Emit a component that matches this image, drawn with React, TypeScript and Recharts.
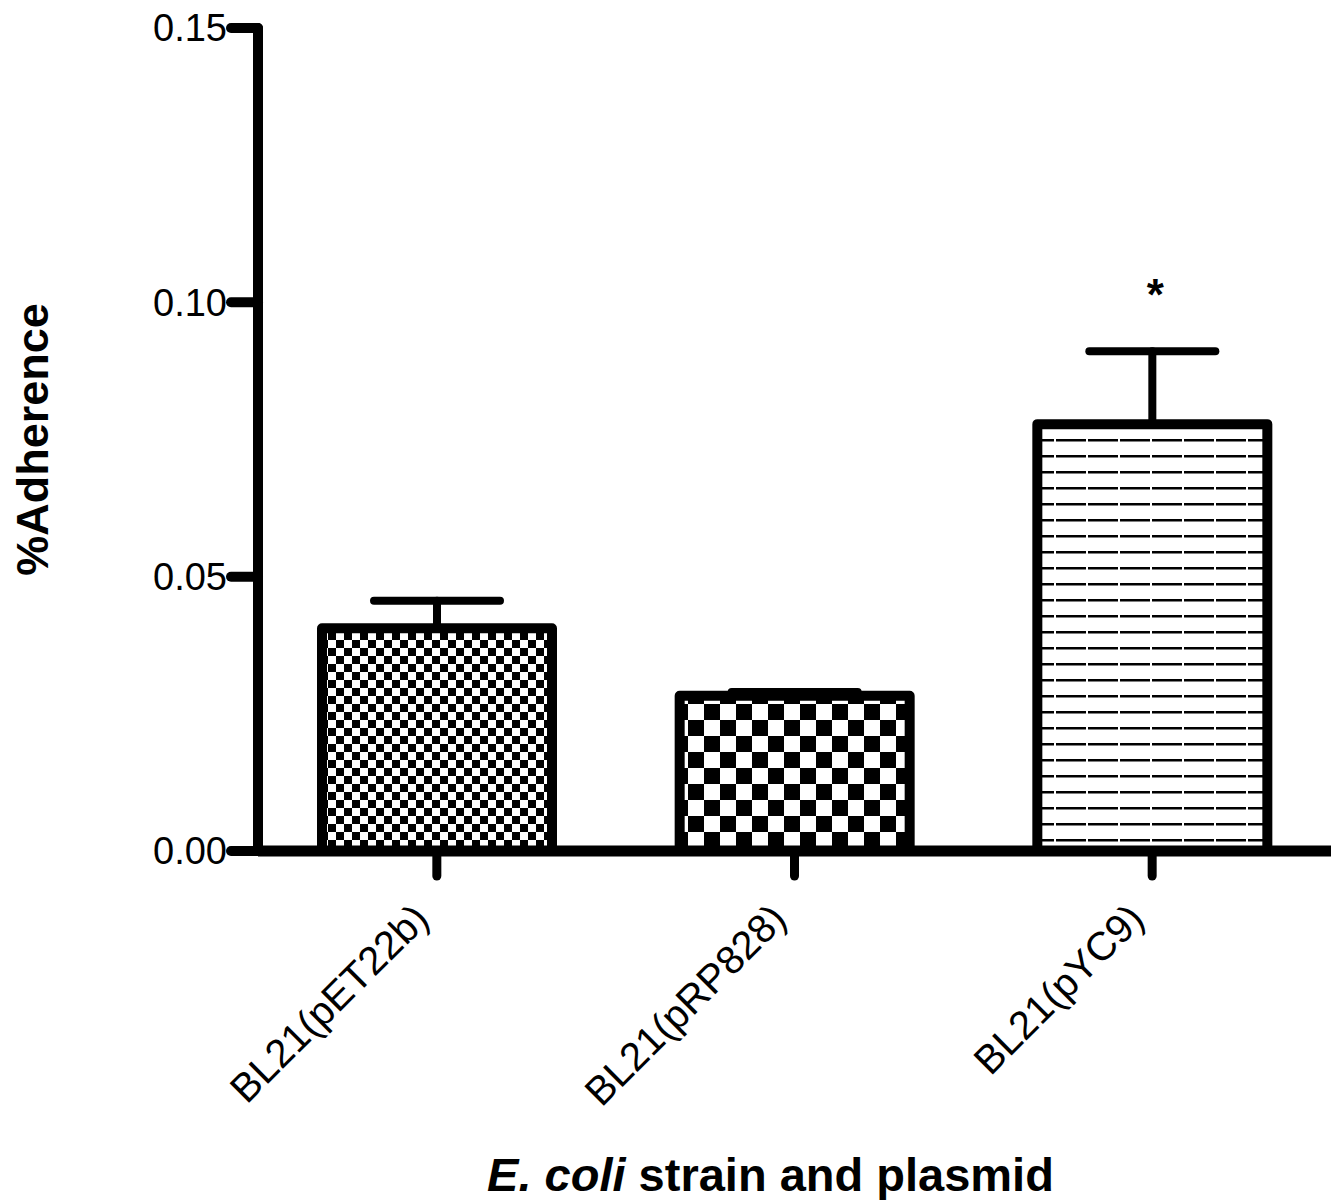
import React from "react";
import { BarChart, Bar, XAxis, YAxis, Cell, ErrorBar, LabelList, Label } from "recharts";

const strains = ["BL21(pET22b)", "BL21(pRP828)", "BL21(pYC9)"];
const adherence = [0.0406, 0.0283, 0.0778];
const sem = [0.005, 0.0007, 0.0133];
const marks = ["", "", "*"];
const yTicks = [0, 0.05, 0.1, 0.15];

const fills = ["url(#chk8)", "url(#chk16)", "url(#hdash)"];
const FONT = "'Liberation Sans', Arial, Helvetica, sans-serif";

const data = strains.map((name, i) => ({
    name,
    value: adherence[i],
    err: [0, sem[i]],
    sig: marks[i],
}));

const CatTick = (props: any) => {
    const { x, y, payload } = props;
    const tx = x - 6;
    return (
        <text
            x={tx}
            y={y}
            transform={`rotate(-45 ${tx} ${y})`}
            textAnchor="end"
            fontFamily={FONT}
            fontSize={40}
            fill="#000"
        >
            {payload.value}
        </text>
    );
};

const XTitle = (props: any) => {
    const vb = props.viewBox || {};
    const cx = vb.x + vb.width / 2 - 24;
    return (
        <text x={cx} y={vb.y + vb.height - 9} textAnchor="middle" fontFamily={FONT} fontSize={47} fontWeight="bold" fill="#000">
            <tspan fontStyle="italic">E. coli</tspan> strain and plasmid
        </text>
    );
};

export default function App() {
    return (
        <div>
            <style>{"body{margin:0;background:#fff}"}</style>
            <BarChart width={1336} height={1200} data={data} margin={{ top: 28, right: 5, left: 0, bottom: 0 }}>
                <defs>
                    <pattern id="chk8" width="16" height="16" patternUnits="userSpaceOnUse">
                        <rect width="16" height="16" fill="#fff" />
                        <rect width="8" height="8" fill="#000" />
                        <rect x="8" y="8" width="8" height="8" fill="#000" />
                    </pattern>
                    <pattern id="chk16" width="32" height="32" patternUnits="userSpaceOnUse">
                        <rect width="32" height="32" fill="#fff" />
                        <rect width="16" height="16" fill="#000" />
                        <rect x="16" y="16" width="16" height="16" fill="#000" />
                    </pattern>
                    <pattern id="hdash" width="32" height="16" patternUnits="userSpaceOnUse">
                        <rect width="32" height="16" fill="#fff" />
                        <rect x="0" y="7" width="30" height="2.5" fill="#000" />
                    </pattern>
                </defs>
                <Bar dataKey="value" barSize={230} stroke="#000" strokeWidth={10} strokeLinejoin="round" isAnimationActive={false}>
                    {data.map((d, i) => (
                        <Cell key={d.name} fill={fills[i]} />
                    ))}
                    <ErrorBar dataKey="err" width={63} stroke="#000" strokeWidth={8} strokeLinecap="round" direction="y" isAnimationActive={false} />
                    <LabelList dataKey="sig" position="top" offset={114} dx={3} fontFamily={FONT} fontSize={44} fontWeight="bold" fill="#000" />
                </Bar>
                <XAxis
                    dataKey="name"
                    height={349}
                    axisLine={{ stroke: "#000", strokeWidth: 11 }}
                    tickLine={{ stroke: "#000", strokeWidth: 9, strokeLinecap: "round" }}
                    tickSize={25}
                    tickMargin={45}
                    interval={0}
                    tick={<CatTick />}
                    label={<XTitle />}
                />
                <YAxis
                    width={258}
                    domain={[0, 0.15]}
                    ticks={yTicks}
                    tickFormatter={(v: number) => v.toFixed(2)}
                    axisLine={{ stroke: "#000", strokeWidth: 10, strokeLinecap: "round" }}
                    tickLine={{ stroke: "#000", strokeWidth: 10, strokeLinecap: "round" }}
                    tickSize={27}
                    tickMargin={4}
                    tick={{ fill: "#000", fontSize: 38, fontFamily: FONT }}
                >
                    <Label
                        value="%Adherence"
                        angle={-90}
                        position="insideLeft"
                        offset={32}
                        style={{ textAnchor: "middle" }}
                        fontFamily={FONT}
                        fontSize={45}
                        fontWeight="bold"
                        fill="#000"
                    />
                </YAxis>
            </BarChart>
        </div>
    );
}
